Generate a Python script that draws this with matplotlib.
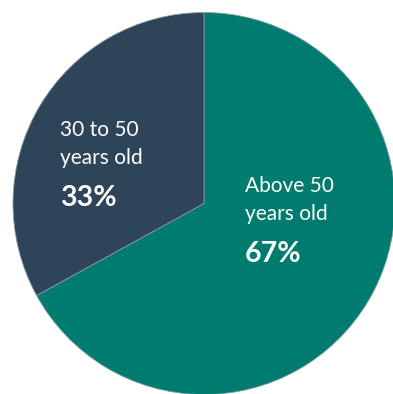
import matplotlib
matplotlib.use("Agg")
import matplotlib.pyplot as plt

labels = ["Above 50\nyears old", "30 to 50\nyears old"]
values = [67, 33]
pct_labels = ["67%", "33%"]
colors = ["#007B6F", "#2E4559"]

W, H = 393, 394
fig = plt.figure(figsize=(W / 100, H / 100), dpi=100)
ax = fig.add_axes([0, 0, 1, 1])

cx, cy, r = 204, H - 203.5, 191
ax.pie(values, colors=colors, startangle=90, counterclock=False,
       center=(cx, cy), radius=r, frame=True,
       wedgeprops=dict(linewidth=0.6, edgecolor="#8a9aa5"))
ax.set_xlim(0, W)
ax.set_ylim(0, H)
ax.set_aspect("equal")
ax.axis("off")

font = ["Lato", "DejaVu Sans"]
pos = [(245, 176), (60, 120)]
for lab, pct, (x, y) in zip(labels, pct_labels, pos):
    ax.text(x, H - y, lab, color="white", fontsize=15, family=font,
            va="top", ha="left", linespacing=1.5)
    ax.text(x, H - (y + 65), pct, color="white", fontsize=20.5, family=font,
            fontweight="bold", va="top", ha="left")

fig.savefig("out.png", dpi=100)
